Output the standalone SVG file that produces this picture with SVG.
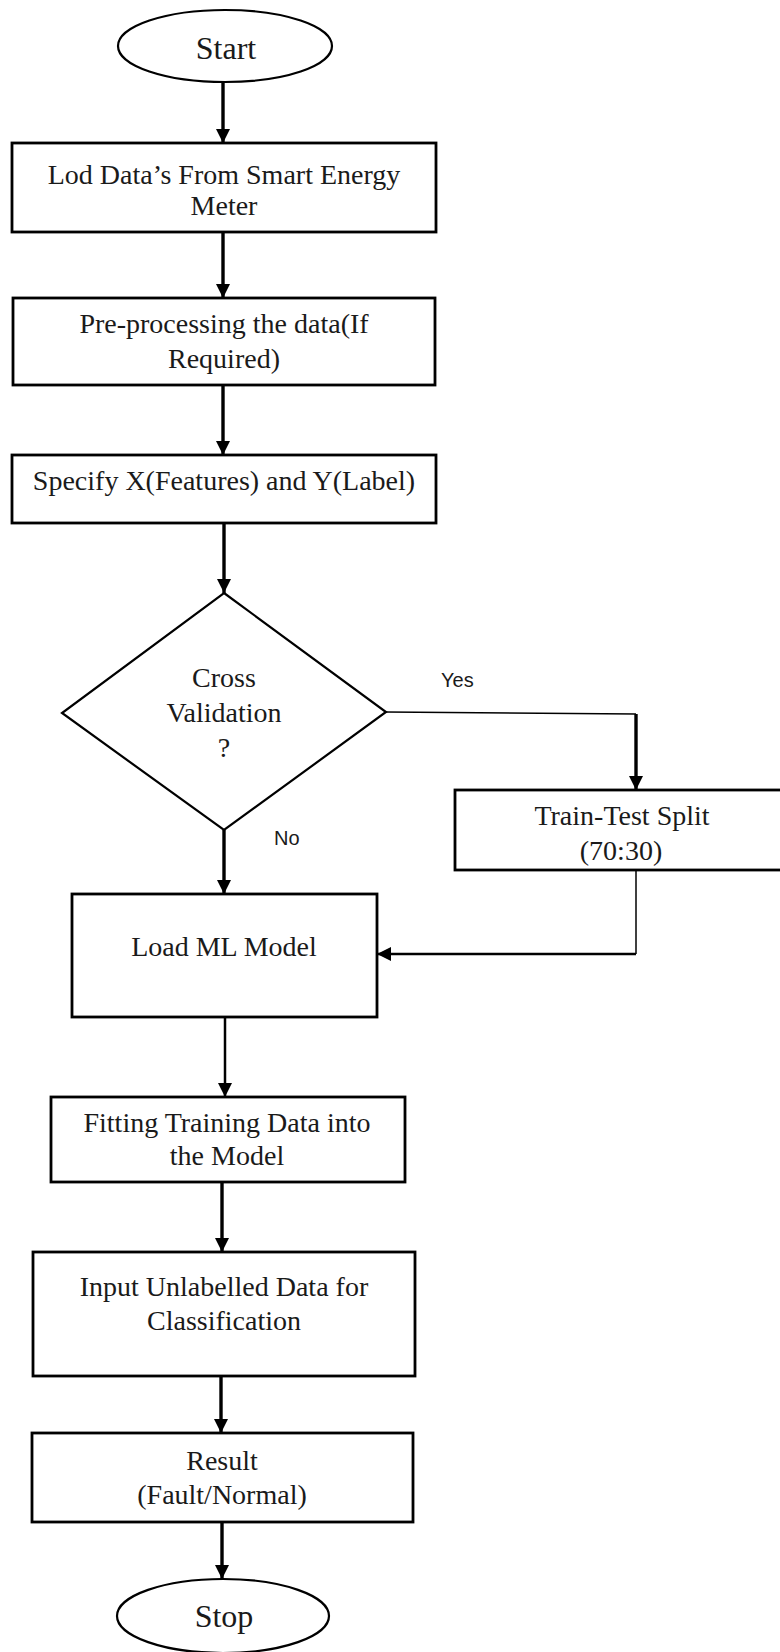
<svg xmlns="http://www.w3.org/2000/svg" width="780" height="1652" viewBox="0 0 780 1652">
  <style>
    .box { fill: #ffffff; stroke: #000000; stroke-width: 2.8; }
    .term { fill: #ffffff; stroke: #000000; stroke-width: 2.2; }
    .lbl { font-family: "Liberation Serif", "Times New Roman", serif; font-size: 28px; fill: #1a1a1a; text-anchor: middle; }
    .big { font-size: 32px; }
    .tag { font-family: "Liberation Sans", Arial, sans-serif; font-size: 20px; fill: #1a1a1a; }
    .flow { fill: none; stroke: #000000; stroke-width: 3.4; }
    .mid { fill: none; stroke: #000000; stroke-width: 2.5; }
    .thin { fill: none; stroke: #000000; stroke-width: 1.5; }
  </style>
  <defs>
    <marker id="head" markerUnits="userSpaceOnUse" markerWidth="14" markerHeight="14" refX="14" refY="7" orient="auto">
      <path d="M0,0 L14,7 L0,14 z" fill="#000000"/>
    </marker>
  </defs>

  <rect width="780" height="1652" fill="#ffffff"/>

  <!-- connectors -->
  <g id="connectors">
    <line class="flow" x1="223" y1="82" x2="223" y2="143" marker-end="url(#head)"/>
    <line class="flow" x1="223" y1="232" x2="223" y2="298" marker-end="url(#head)"/>
    <line class="flow" x1="223" y1="385" x2="223" y2="455" marker-end="url(#head)"/>
    <line class="flow" x1="224" y1="523" x2="224" y2="593" marker-end="url(#head)"/>
    <line class="flow" x1="224" y1="830" x2="224" y2="894" marker-end="url(#head)"/>
    <!-- yes branch -->
    <polyline class="thin" points="386,712 636,714"/>
    <line class="flow" x1="636" y1="714" x2="636" y2="790" marker-end="url(#head)"/>
    <!-- return from split into the model box -->
    <polyline class="thin" points="636,870 636,954"/>
    <line class="mid" x1="636" y1="954" x2="377" y2="954" marker-end="url(#head)"/>
    <line class="mid" x1="225" y1="1017" x2="225" y2="1097" marker-end="url(#head)"/>
    <line class="flow" x1="222" y1="1182" x2="222" y2="1252" marker-end="url(#head)"/>
    <line class="flow" x1="221" y1="1376" x2="221" y2="1433" marker-end="url(#head)"/>
    <line class="flow" x1="222" y1="1520" x2="222" y2="1579" marker-end="url(#head)"/>
    <text class="tag" x="441" y="687">Yes</text>
    <text class="tag" x="274" y="845">No</text>
  </g>

  <g id="start">
    <ellipse class="term" cx="225" cy="46" rx="107" ry="36"/>
    <text class="lbl big" x="226" y="59">Start</text>
  </g>

  <g id="load-data">
    <rect class="box" x="12" y="143" width="424" height="89"/>
    <text class="lbl" x="224" y="184">Lod Data’s From Smart Energy</text>
    <text class="lbl" x="224" y="215">Meter</text>
  </g>

  <g id="preprocess">
    <rect class="box" x="13" y="298" width="422" height="87"/>
    <text class="lbl" x="224" y="333">Pre-processing the data(If</text>
    <text class="lbl" x="224" y="368">Required)</text>
  </g>

  <g id="specify">
    <rect class="box" x="12" y="455" width="424" height="68"/>
    <text class="lbl" x="224" y="490">Specify X(Features) and Y(Label)</text>
  </g>

  <g id="cross-validation">
    <polygon class="term" points="224,593 386,712 224,830 62,713"/>
    <text class="lbl" x="224" y="687">Cross</text>
    <text class="lbl" x="224" y="722">Validation</text>
    <text class="lbl" x="224" y="757">?</text>
  </g>

  <g id="train-test-split">
    <rect class="box" x="455" y="790" width="330" height="80"/>
    <text class="lbl" x="622" y="825">Train-Test Split</text>
    <text class="lbl" x="621" y="860">(70:30)</text>
  </g>

  <g id="load-model">
    <rect class="box" x="72" y="894" width="305" height="123"/>
    <text class="lbl" x="224" y="956">Load ML Model</text>
  </g>

  <g id="fit">
    <rect class="box" x="51" y="1097" width="354" height="85"/>
    <text class="lbl" x="227" y="1132">Fitting Training Data into</text>
    <text class="lbl" x="227" y="1165">the Model</text>
  </g>

  <g id="input">
    <rect class="box" x="33" y="1252" width="382" height="124"/>
    <text class="lbl" x="224" y="1296">Input Unlabelled Data for</text>
    <text class="lbl" x="224" y="1330">Classification</text>
  </g>

  <g id="result">
    <rect class="box" x="32" y="1433" width="381" height="89"/>
    <text class="lbl" x="222" y="1470">Result</text>
    <text class="lbl" x="222" y="1504">(Fault/Normal)</text>
  </g>

  <g id="stop">
    <ellipse class="term" cx="223" cy="1616" rx="106" ry="37"/>
    <text class="lbl big" x="224" y="1627">Stop</text>
  </g>
</svg>
